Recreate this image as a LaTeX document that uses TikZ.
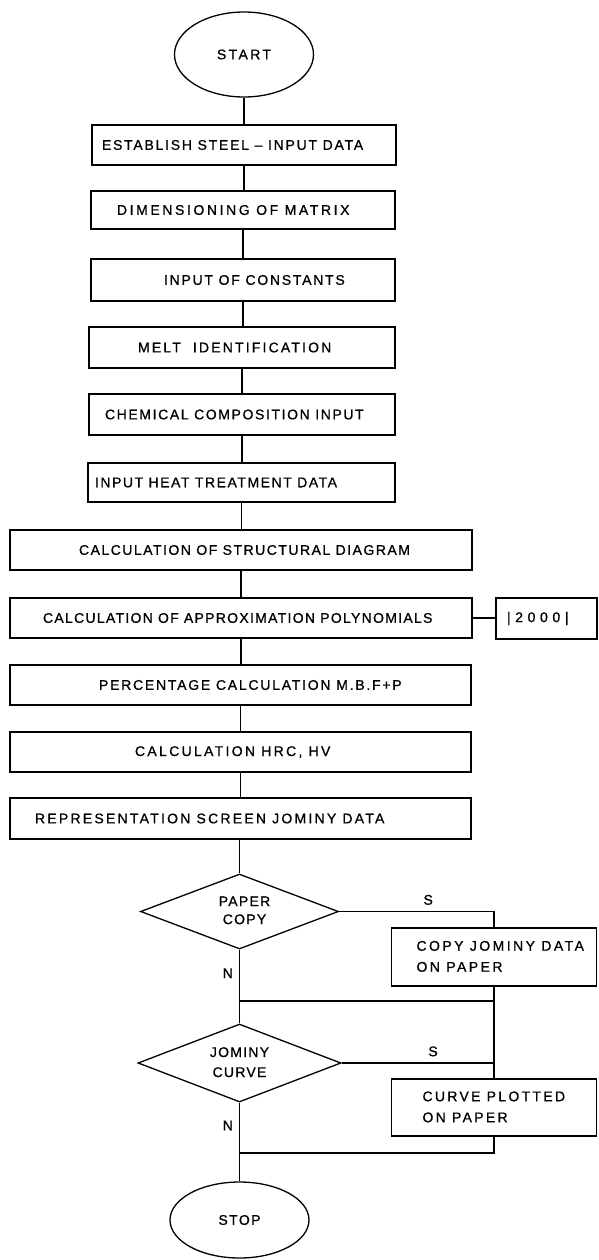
\documentclass[tikz,border=0pt]{standalone}
\usepackage{fontspec}
\setmainfont{Liberation Sans}[FakeBold=0.8]
\usetikzlibrary{shapes.geometric}
\newcommand{\bxt}[4]{\makebox[#1pt][l]{\hspace*{#2pt}\addfontfeature{LetterSpace=#3}#4}}
\newcommand{\lsp}[2]{{\addfontfeature{LetterSpace=#1}#2}}
\begin{document}
\begin{tikzpicture}[x=1pt,y=-1pt,
  every node/.style={font=\fontsize{14pt}{21pt}\selectfont},
  proc/.style={draw,line width=1.3pt,inner sep=0pt},
  term/.style={draw,line width=1.3pt,ellipse,inner sep=0pt},
  dec/.style={draw,line width=1.3pt,diamond,aspect=2.6,inner sep=0pt},
  lbl/.style={inner sep=0pt},
  conn/.style={line width=1.3pt}]
\fill[white] (0,0) rectangle (598,1260);
\useasboundingbox (0,0) rectangle (598,1260);

\node[term, minimum width=139pt, minimum height=85pt] (s) at (244,54.5) {\lsp{17}{START}};

\node[proc, minimum height=40pt] (b1) at (244,145) {\bxt{304}{10}{12.5}{ESTABLISH STEEL – INPUT DATA}};
\node[proc, minimum height=38pt] (b2) at (243,210) {\bxt{304}{26}{18.5}{DIMENSIONING OF MATRIX}};
\node[proc, minimum height=42pt] (b3) at (243,280) {\bxt{304}{73}{12.5}{INPUT OF CONSTANTS}};
\node[proc, minimum height=41pt] (b4) at (242,347.5) {\bxt{306}{49}{15.5}{MELT\ \ IDENTIFICATION}};
\node[proc, minimum height=41pt] (b5) at (242,414.5) {\bxt{306}{16}{11.5}{CHEMICAL COMPOSITION INPUT}};
\node[proc, minimum height=39pt] (b6) at (241.5,482.5) {\bxt{307}{7}{11}{INPUT HEAT TREATMENT DATA}};
\node[proc, minimum height=40pt] (b7) at (241,550) {\bxt{462}{69}{10.7}{CALCULATION OF STRUCTURAL DIAGRAM}};
\node[proc, minimum height=40pt] (b8) at (241,618) {\bxt{462}{33}{9.2}{CALCULATION OF APPROXIMATION POLYNOMIALS}};
\node[proc, minimum height=41pt] (k) at (546.5,618.5) {\bxt{101}{11}{33}{|2000|}};
\node[proc, minimum height=40pt] (b9) at (240.5,685) {\bxt{461}{89}{12.6}{PERCENTAGE CALCULATION M.B.F+P}};
\node[proc, minimum height=40pt] (b10) at (240.5,752) {\bxt{461}{125}{16.5}{CALCULATION HRC, HV}};
\node[proc, minimum height=41pt] (b11) at (240.5,818.5) {\bxt{461}{25}{16}{REPRESENTATION SCREEN JOMINY DATA}};

\node[dec, minimum width=198pt, minimum height=75pt, font=\fontsize{14pt}{18pt}\selectfont] (d1) at (239.5,911.5)
  {\hspace*{10pt}\lsp{9}{\begin{tabular}{@{}c@{}}PAPER\\COPY\end{tabular}}};
\node[proc, minimum height=58pt] (cp) at (494,957) {\bxt{205}{25}{17.5}{\begin{tabular}{@{}l@{}}COPY JOMINY DATA\\ON PAPER\end{tabular}}};
\node[dec, minimum width=203pt, minimum height=78pt, font=\fontsize{14pt}{20pt}\selectfont] (d2) at (239.5,1063)
  {\lsp{9}{\begin{tabular}{@{}c@{}}JOMINY\\CURVE\end{tabular}}};
\node[proc, minimum height=57pt] (cv) at (494,1107.5) {\bxt{205}{31}{16.5}{\begin{tabular}{@{}l@{}}CURVE PLOTTED\\ON PAPER\end{tabular}}};
\node[term, minimum width=139pt, minimum height=76pt] (stop) at (239.5,1220) {\lsp{10}{STOP}};

\coordinate (m1) at (239.5,1001);
\coordinate (m2) at (239.5,1153);

\draw[conn] (s.south -| b1.north) -- (b1.north);
\draw[conn] (b1.south) -- (b1.south |- b2.north);
\draw[conn] (b2.south) -- (b2.south |- b3.north);
\draw[conn] (b3.south) -- (b3.south |- b4.north);
\draw[conn] (b4.south) -- (b4.south |- b5.north);
\draw[conn] (b5.south) -- (b5.south |- b6.north);
\draw[conn] (b6.south) -- (b6.south |- b7.north);
\draw[conn] (b7.south) -- (b7.south |- b8.north);
\draw[conn] (b8.south) -- (b8.south |- b9.north);
\draw[conn] (b9.south) -- (b9.south |- b10.north);
\draw[conn] (b10.south) -- (b10.south |- b11.north);
\draw[conn] (b8.east) -- (b8.east -| k.west);
\draw[conn] (d1.north |- b11.south) -- (d1.north);

\draw[conn] (d1.east) -| (cp.north) node[lbl, pos=0.2875, above=6pt] {S};
\draw[conn] (cp.south) -- (cv.north);
\draw[conn] (cp.south |- m1) -- (m1);
\draw[conn] (d1.south) -- (d2.north) node[lbl, pos=0.32, left=6pt] {N};
\draw[conn] (d2.east) -| (cv.north) node[lbl, pos=0.30, above=6pt] {S};
\draw[conn] (cv.south) |- (m2);
\draw[conn] (d2.south) -- (stop.north) node[lbl, pos=0.29, left=6pt] {N};
\end{tikzpicture}
\end{document}
